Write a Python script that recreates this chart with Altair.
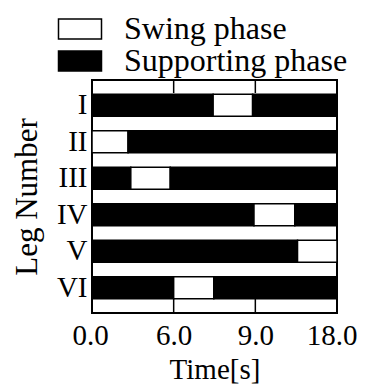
import altair as alt
import pandas as pd

legs = ["I", "II", "III", "IV", "V", "VI"]
swing_start = [8.9, 0.0, 2.85, 11.9, 15.1, 6.0]
swing_end = [11.8, 2.65, 5.75, 14.9, 18.0, 8.95]
t_end = 18.0
phases = ["Swing phase", "Supporting phase"]
tick_values = [0, 6, 12, 18]
tick_labels = ["0.0", "6.0", "9.0", "18.0"]
inner_ticks = [6, 12]

rows = []
for leg, s, e in zip(legs, swing_start, swing_end):
    if s > 0:
        rows.append({"leg": leg, "start": 0.0, "end": s, "phase": phases[1]})
    rows.append({"leg": leg, "start": s, "end": e, "phase": phases[0]})
    if e < t_end:
        rows.append({"leg": leg, "start": e, "end": t_end, "phase": phases[1]})
df = pd.DataFrame(rows)

label_expr = " : ".join(
    f"datum.value == {v} ? '{l}'" for v, l in zip(tick_values, tick_labels)
) + " : ''"

FONT = "Liberation Serif"
W, H = 245, 233

xscale = alt.Scale(domain=[0, t_end], nice=False, zero=False)

bars = alt.Chart(df).mark_bar(stroke="black", strokeWidth=1.5).encode(
    x=alt.X("start:Q", scale=xscale,
            axis=alt.Axis(values=tick_values, labelExpr=label_expr, title="Time[s]",
                          grid=False, ticks=False, domain=False,
                          labelFlush=True, labelFlushOffset=20,
                          labelFont=FONT, labelFontSize=29, labelColor="black",
                          labelPadding=8, titleFont=FONT, titleFontSize=29,
                          titleFontWeight="normal", titleColor="black", titlePadding=5)),
    x2="end:Q",
    y=alt.Y("leg:N", sort=legs,
            scale=alt.Scale(paddingInner=0.397, paddingOuter=0.394),
            axis=alt.Axis(title="Leg Number", ticks=False, domain=False,
                          labelFont=FONT, labelFontSize=29, labelColor="black",
                          labelPadding=5, titleFont=FONT, titleFontSize=31,
                          titleFontWeight="normal", titleColor="black", titlePadding=13)),
    color=alt.Color("phase:N",
                    scale=alt.Scale(domain=phases, range=["white", "black"]),
                    legend=alt.Legend(title=None, orient="none", legendX=-28, legendY=-67,
                                      symbolType="M-1.5,-0.7H1.5V0.7H-1.5Z", symbolSize=822,
                                      symbolStrokeColor="black", symbolStrokeWidth=1.5,
                                      labelFont=FONT, labelFontSize=32, labelColor="black",
                                      labelOffset=28, rowPadding=0, labelLimit=400)),
)

tick_df = pd.DataFrame({"t": inner_ticks})
top_ticks = alt.Chart(tick_df).mark_rule(color="black", strokeWidth=1.5).encode(
    x=alt.X("t:Q", scale=xscale), y=alt.value(0), y2=alt.value(13)
)
bottom_ticks = alt.Chart(tick_df).mark_rule(color="black", strokeWidth=1.5).encode(
    x=alt.X("t:Q", scale=xscale), y=alt.value(H - 15), y2=alt.value(H)
)

chart = alt.layer(bars, top_ticks, bottom_ticks).properties(
    width=W, height=H,
    autosize=alt.AutoSizeParams(type="none"),
    padding={"left": 84, "top": 72, "right": 20, "bottom": 78},
).configure(font=FONT).configure_view(stroke="black", strokeWidth=2)

chart.save("out.html", embed_options={"renderer": "svg", "actions": False})
